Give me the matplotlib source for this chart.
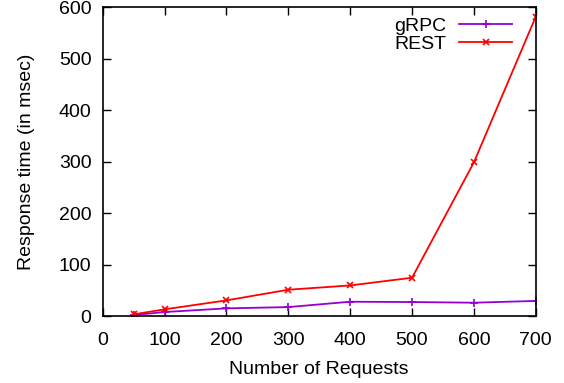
import numpy as np
import matplotlib.pyplot as plt

plt.rcParams['font.family'] = ['Liberation Sans', 'DejaVu Sans']

# number of requests sent per run
requests = [50, 100, 200, 300, 400, 500, 600, 700]
# response times in msec
grpc_ms = [2.5, 8.4, 15.5, 18, 28.4, 27.8, 26.5, 30]
rest_ms = [3.9, 13.6, 31, 51.7, 60, 75, 299, 582]

fig = plt.figure(figsize=(5.64, 3.83), dpi=100)
ax = fig.add_axes([0.182, 0.174, 0.768, 0.807])

ax.plot(requests, grpc_ms, color='#9400d3', lw=1.3, marker='+', ms=6, mew=1.2, label='gRPC')
ax.plot(requests, rest_ms, color='#ff0000', lw=1.3, marker='x', ms=5, mew=1.2, label='REST')

ax.set_xlim(0, 700)
ax.set_ylim(0, 600)
ax.set_xticks(np.arange(0, 701, 100))
ax.set_yticks(np.arange(0, 601, 100))
ax.tick_params(direction='in', top=True, right=True, length=6, width=1,
               labelsize=14)
ax.tick_params(axis='x', pad=11)
ax.tick_params(axis='y', pad=8)
for s in ax.spines.values():
    s.set_linewidth(1.2)

ax.set_xlabel('Number of Requests', fontsize=14, labelpad=9)
ax.set_ylabel('Response time (in msec)', fontsize=14, labelpad=17)

ax.legend(loc='upper right', frameon=False, markerfirst=False, fontsize=14,
          numpoints=1, handlelength=2.7, handletextpad=0.67, labelspacing=0.0,
          borderpad=0.0, borderaxespad=0.0, bbox_to_anchor=(0.945, 0.967))

fig.savefig('out.png', dpi=100)
